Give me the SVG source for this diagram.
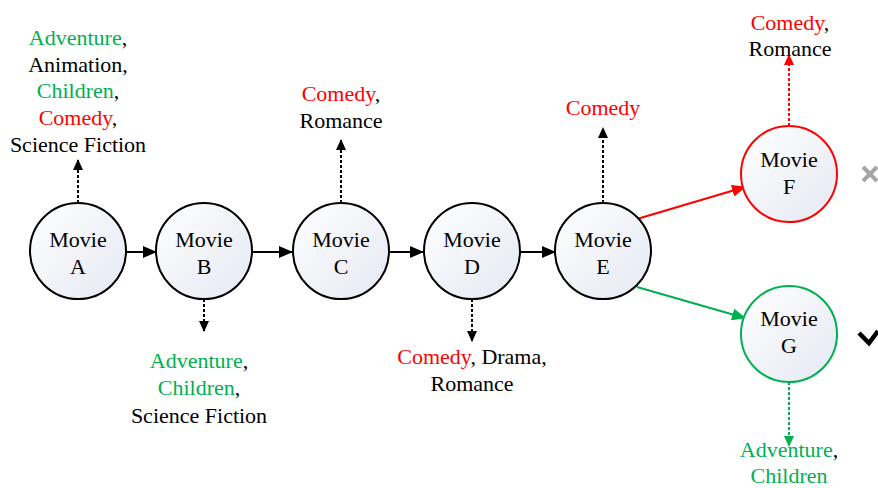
<svg xmlns="http://www.w3.org/2000/svg" width="878" height="488" viewBox="0 0 878 488" font-family="'Liberation Serif', 'Times New Roman', 'DejaVu Serif', serif" font-size="22">
<defs>
<linearGradient id="nf" x1="0" y1="0" x2="1" y2="1">
<stop offset="0" stop-color="#ffffff"/>
<stop offset="1" stop-color="#e4e8f2"/>
</linearGradient>
<marker id="ab" markerWidth="14" markerHeight="12" refX="13" refY="6" orient="auto" markerUnits="userSpaceOnUse"><path d="M0,0 L14,6 L0,12 Z" fill="#000"/></marker>
<marker id="ar" markerWidth="14" markerHeight="12" refX="13" refY="6" orient="auto" markerUnits="userSpaceOnUse"><path d="M0,0 L14,6 L0,12 Z" fill="#ff0000"/></marker>
<marker id="ag" markerWidth="14" markerHeight="12" refX="13" refY="6" orient="auto" markerUnits="userSpaceOnUse"><path d="M0,0 L14,6 L0,12 Z" fill="#00b050"/></marker>
<marker id="db" markerWidth="11" markerHeight="10" refX="10" refY="5" orient="auto" markerUnits="userSpaceOnUse"><path d="M0,0 L11,5 L0,10 Z" fill="#000"/></marker>
<marker id="dr" markerWidth="11" markerHeight="10" refX="10" refY="5" orient="auto" markerUnits="userSpaceOnUse"><path d="M0,0 L11,5 L0,10 Z" fill="#ff0000"/></marker>
<marker id="dg" markerWidth="11" markerHeight="10" refX="10" refY="5" orient="auto" markerUnits="userSpaceOnUse"><path d="M0,0 L11,5 L0,10 Z" fill="#00b050"/></marker>
</defs>
<style>
text{text-anchor:middle;fill:#000}
.g{fill:#00b050}.r{fill:#ff0000}
circle{fill:url(#nf);stroke-width:2}
.n{stroke:#000}
.line{stroke-width:2;fill:none}
.dot{stroke-width:2;fill:none;stroke-dasharray:3,2}
</style>
<g id="connectors">
<line class="line" x1="126" y1="252" x2="156" y2="252" stroke="#000" marker-end="url(#ab)"/>
<line class="line" x1="252" y1="252" x2="292" y2="252" stroke="#000" marker-end="url(#ab)"/>
<line class="line" x1="389" y1="252" x2="423" y2="252" stroke="#000" marker-end="url(#ab)"/>
<line class="line" x1="520" y1="252" x2="555" y2="252" stroke="#000" marker-end="url(#ab)"/>
<line class="line" x1="637" y1="219" x2="745" y2="187" stroke="#ff0000" marker-end="url(#ar)"/>
<line class="line" x1="637" y1="287" x2="745" y2="318" stroke="#00b050" marker-end="url(#ag)"/>
<line class="dot" x1="78" y1="203" x2="78" y2="160" stroke="#000" marker-end="url(#db)"/>
<line class="dot" x1="204" y1="299" x2="204" y2="331" stroke="#000" marker-end="url(#db)"/>
<line class="dot" x1="341" y1="203" x2="341" y2="140" stroke="#000" marker-end="url(#db)"/>
<line class="dot" x1="472" y1="299" x2="472" y2="341" stroke="#000" marker-end="url(#db)"/>
<line class="dot" x1="603" y1="203" x2="603" y2="128" stroke="#000" marker-end="url(#db)"/>
<line class="dot" x1="789" y1="126" x2="789" y2="55" stroke="#ff0000" marker-end="url(#dr)"/>
<line class="dot" x1="789" y1="382" x2="789" y2="446" stroke="#00b050" marker-end="url(#dg)"/>
</g>
<g id="A"><circle class="n" cx="78" cy="251" r="48"/><text x="78" y="247">Movie</text><text x="78" y="274">A</text></g>
<g id="B"><circle class="n" cx="204" cy="251" r="48"/><text x="204" y="247">Movie</text><text x="204" y="274">B</text></g>
<g id="C"><circle class="n" cx="341" cy="251" r="48"/><text x="341" y="247">Movie</text><text x="341" y="274">C</text></g>
<g id="D"><circle class="n" cx="472" cy="251" r="48"/><text x="472" y="247">Movie</text><text x="472" y="274">D</text></g>
<g id="E"><circle class="n" cx="603" cy="251" r="48"/><text x="603" y="247">Movie</text><text x="603" y="274">E</text></g>
<g id="F"><circle cx="789" cy="174" r="48" stroke="#ff0000"/><text x="789" y="167">Movie</text><text x="789" y="194">F</text></g>
<g id="G"><circle cx="789" cy="334" r="48" stroke="#00b050"/><text x="789" y="326">Movie</text><text x="789" y="353">G</text></g>
<g id="labels">
<text x="78" y="45"><tspan class="g">Adventure</tspan>,</text>
<text x="78" y="72">Animation,</text>
<text x="78" y="98"><tspan class="g">Children</tspan>,</text>
<text x="78" y="125"><tspan class="r">Comedy</tspan>,</text>
<text x="78" y="152">Science Fiction</text>
<text x="199" y="368"><tspan class="g">Adventure</tspan>,</text>
<text x="199" y="395"><tspan class="g">Children</tspan>,</text>
<text x="199" y="423">Science Fiction</text>
<text x="341" y="101"><tspan class="r">Comedy</tspan>,</text>
<text x="341" y="128">Romance</text>
<text x="472" y="364"><tspan class="r">Comedy</tspan>, Drama,</text>
<text x="472" y="391">Romance</text>
<text x="603" y="115" class="r">Comedy</text>
<text x="790" y="30"><tspan class="r">Comedy</tspan>,</text>
<text x="790" y="56">Romance</text>
<text x="789" y="457"><tspan class="g">Adventure</tspan>,</text>
<text x="789" y="483" class="g">Children</text>
</g>
<g id="marks">
<path d="M863,167 L877,181 M877,167 L863,181" stroke="#a6a6a6" stroke-width="4" fill="none"/>
<path d="M859,333 L869,343 L878,331" stroke="#000" stroke-width="4.5" fill="none"/>
</g>
</svg>
